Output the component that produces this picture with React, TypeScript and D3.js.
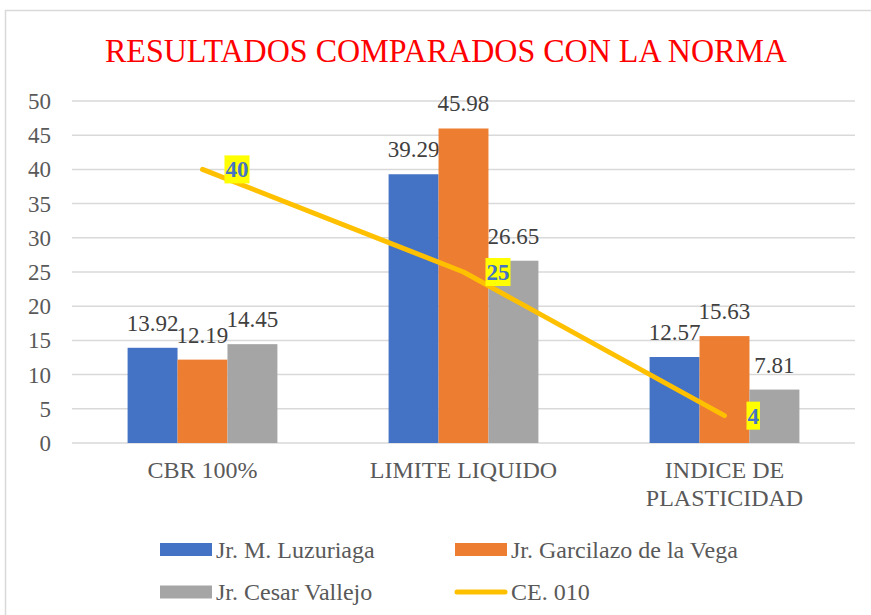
import * as d3 from "d3";

const categories = ["CBR 100%", "LIMITE LIQUIDO", "INDICE DE PLASTICIDAD"];
const categoryLines = [["CBR 100%"], ["LIMITE LIQUIDO"], ["INDICE DE", "PLASTICIDAD"]];
const barSeries = ["Jr. M. Luzuriaga", "Jr. Garcilazo de la Vega", "Jr. Cesar Vallejo"];
const barColors = ["#4472C4", "#ED7D31", "#A5A5A5"];
const luzuriaga = [13.92, 39.29, 12.57];
const garcilazo = [12.19, 45.98, 15.63];
const vallejo = [14.45, 26.65, 7.81];
const norma = [40, 25, 4];
const normaName = "CE. 010";
const yTicks = [0, 5, 10, 15, 20, 25, 30, 35, 40, 45, 50];

export default function App() {
  const width = 871;
  const height = 615;
  const marginLeft = 72;
  const plotRight = 855;
  const plotTop = 101;
  const plotBottom = 443;
  const font = "Liberation Serif, serif";
  const fs = 23;

  const values = [luzuriaga, garcilazo, vallejo];

  const x = d3.scaleBand()
    .domain(categories)
    .range([marginLeft, plotRight])
    .paddingInner(0.426)
    .paddingOuter(0.213);

  const xInner = d3.scaleBand()
    .domain(barSeries)
    .range([0, x.bandwidth()]);

  const y = d3.scaleLinear().domain([0, 50]).range([plotBottom, plotTop]);

  const line = d3.line<number>()
    .x((_, i) => x(categories[i])! + x.bandwidth() / 2)
    .y(d => y(d));

  return (
    <svg width={width} height={height} style={{ position: "absolute", left: 0, top: 0, background: "#fff", fontFamily: font }}>
      <rect x={5.5} y={10.5} width={870} height={620} fill="#fff" stroke="#d9d9d9" strokeWidth={1.5} />

      <text x={446} y={62} textAnchor="middle" fontSize={33} fill="#FF0000" textLength={682} lengthAdjust="spacingAndGlyphs">
        RESULTADOS COMPARADOS CON LA NORMA
      </text>

      {/* gridlines + y labels */}
      {yTicks.map(t => (
        <g key={t}>
          <line x1={marginLeft} x2={plotRight} y1={y(t)} y2={y(t)} stroke="#d9d9d9" strokeWidth={1.5} />
          <text x={51} y={y(t) + 8} textAnchor="end" fontSize={fs} fill="#595959">{t}</text>
        </g>
      ))}

      {/* bars */}
      {categories.map((c, ci) => (
        <g key={c} transform={`translate(${x(c)},0)`}>
          {barSeries.map((s, si) => (
            <g key={s}>
              <rect
                x={xInner(s)}
                y={y(values[si][ci])}
                width={xInner.bandwidth()}
                height={plotBottom - y(values[si][ci])}
                fill={barColors[si]}
              />
              <text
                x={xInner(s)! + xInner.bandwidth() / 2}
                y={y(values[si][ci]) - 17}
                textAnchor="middle"
                fontSize={fs}
                fill="#404040"
              >
                {values[si][ci].toFixed(2)}
              </text>
            </g>
          ))}
        </g>
      ))}

      {/* category labels */}
      {categories.map((c, ci) => (
        <text key={c} x={x(c)! + x.bandwidth() / 2} y={478} textAnchor="middle" fontSize={24} fill="#595959">
          {categoryLines[ci].map((l, li) => (
            <tspan key={li} x={x(c)! + x.bandwidth() / 2} dy={li === 0 ? 0 : 28}>{l}</tspan>
          ))}
        </text>
      ))}

      {/* norma line */}
      <path d={line(norma) ?? ""} fill="none" stroke="#FFC000" strokeWidth={5} strokeLinecap="round" strokeLinejoin="round" />
      {norma.map((v, i) => {
        const cx = x(categories[i])! + x.bandwidth() / 2;
        const label = String(v);
        const w = label.length * 11.5 + 2;
        return (
          <g key={i}>
            <rect x={cx + 22} y={y(v) - 14} width={w} height={28} fill="#FFFF00" />
            <text x={cx + 22 + w / 2} y={y(v) + 8} textAnchor="middle" fontSize={fs} fontWeight="bold" fill="#4472C4">{label}</text>
          </g>
        );
      })}

      {/* legend */}
      {[
        { name: barSeries[0], color: barColors[0], lx: 160, ly: 549.5, kind: "bar" },
        { name: barSeries[1], color: barColors[1], lx: 455, ly: 549.5, kind: "bar" },
        { name: barSeries[2], color: barColors[2], lx: 160, ly: 592, kind: "bar" },
        { name: normaName, color: "#FFC000", lx: 455, ly: 592, kind: "line" },
      ].map(d => (
        <g key={d.name} transform={`translate(${d.lx},${d.ly})`}>
          {d.kind === "bar"
            ? <rect x={0} y={-6.5} width={52} height={13} fill={d.color} />
            : <line x1={2} x2={50} y1={0} y2={0} stroke={d.color} strokeWidth={5} strokeLinecap="round" />}
          <text x={56} y={8} fontSize={24} fill="#595959">{d.name}</text>
        </g>
      ))}
    </svg>
  );
}
